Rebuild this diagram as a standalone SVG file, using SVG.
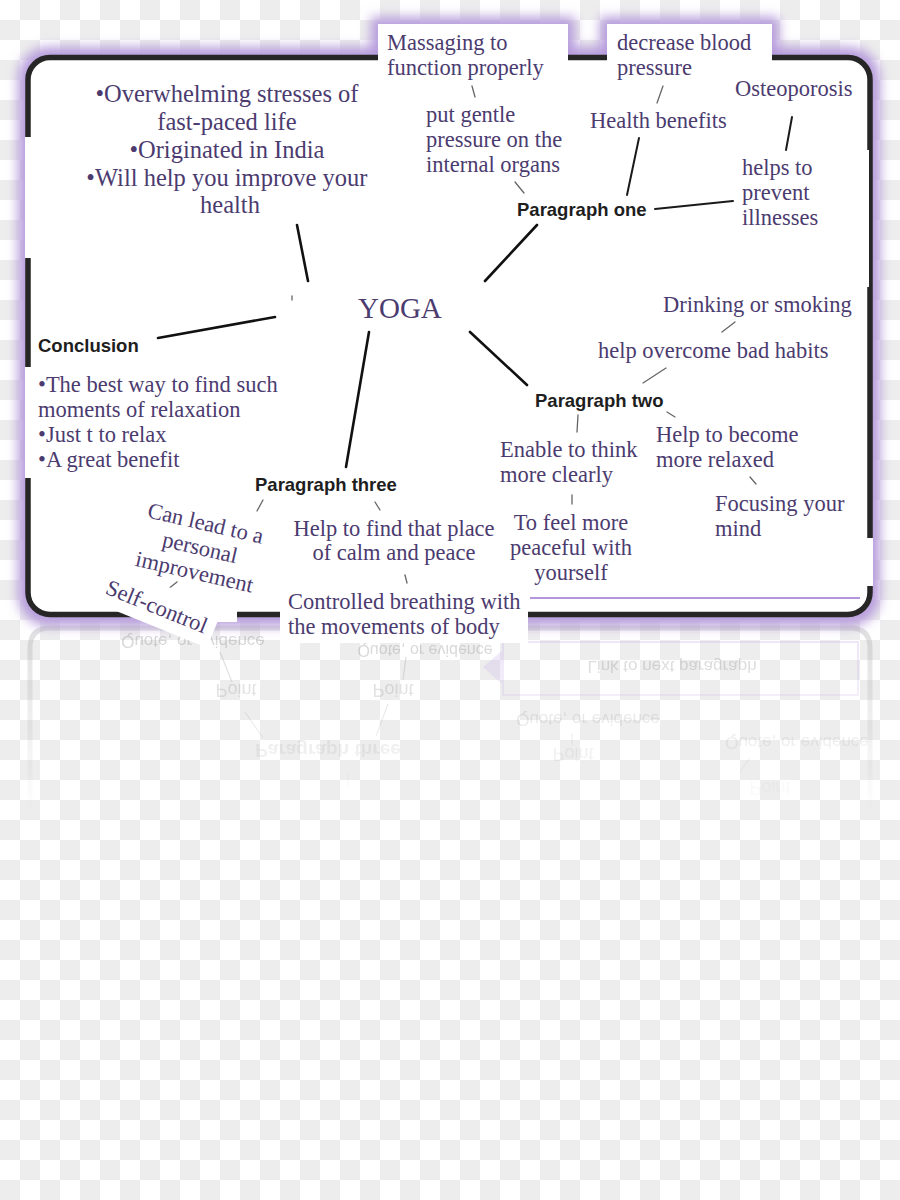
<svg xmlns="http://www.w3.org/2000/svg" width="900" height="1200" viewBox="0 0 900 1200">
<defs>
  <pattern id="checker" patternUnits="userSpaceOnUse" width="40" height="40">
    <rect width="40" height="40" fill="#ffffff"/>
    <rect x="20" y="0" width="20" height="20" fill="#ededed"/>
    <rect x="0" y="20" width="20" height="20" fill="#ededed"/>
  </pattern>
  <filter id="glow" x="-10%" y="-20%" width="120%" height="140%">
    <feGaussianBlur stdDeviation="6"/>
  </filter>
  <linearGradient id="fade" x1="0" y1="0" x2="0" y2="1">
    <stop offset="0" stop-color="#fff" stop-opacity="1"/>
    <stop offset="1" stop-color="#fff" stop-opacity="0"/>
  </linearGradient>
  <mask id="reflMask" maskUnits="userSpaceOnUse" x="0" y="600" width="900" height="260">
    <rect x="0" y="615" width="900" height="200" fill="url(#fade)"/>
  </mask>
  <style>
    .t { font-family: "Liberation Serif", "DejaVu Serif", serif; font-size: 22.5px; fill: #4b3b6f; }
    .big { font-size: 24.5px; }
    .yoga { font-size: 29px; }
    .lbl { font-family: "Liberation Sans", Arial, sans-serif; font-weight: bold; font-size: 18.5px; fill: #1e1e1e; }
    .main { stroke: #111; stroke-width: 2.6; stroke-linecap: round; fill: none; }
    .sec { stroke: #1a1a1a; stroke-width: 2; stroke-linecap: round; fill: none; }
    .tick { stroke: #666; stroke-width: 1.3; stroke-linecap: round; fill: none; }
    .rt { font-family: "Liberation Sans", Arial, sans-serif; font-size: 18px; fill: #888; }
  </style>
</defs>

<!-- background checkerboard -->
<rect x="0" y="0" width="900" height="1200" fill="url(#checker)"/>

<!-- faded reflection -->
<g id="reflection" mask="url(#reflMask)" opacity="0.38">
  <path d="M30,820 V648 Q30,628 50,628 H850 Q870,628 870,648 V820" fill="none" stroke="#a8a8a8" stroke-width="5"/>
  <rect x="503" y="642" width="355" height="53" fill="none" stroke="#c9b5ea" stroke-width="2"/>
  <polygon points="483,667 503,650 503,685" fill="#c9b5ea"/>
  <g fill="none" stroke="#999" stroke-width="1.3">
    <line x1="220" y1="652" x2="232" y2="682"/>
    <line x1="245" y1="712" x2="263" y2="738"/>
    <line x1="348" y1="774" x2="348" y2="786"/>
    <line x1="406" y1="657" x2="403" y2="680"/>
    <line x1="388" y1="704" x2="376" y2="736"/>
    <line x1="572" y1="733" x2="572" y2="745"/>
    <line x1="750" y1="758" x2="740" y2="772"/>
  </g>
  <g class="rt">
    <text transform="translate(193,636) scale(1,-1)" text-anchor="middle" font-size="17">Quote, or evidence</text>
    <text transform="translate(425,645) scale(1,-1)" text-anchor="middle" font-size="16">Quote, or evidence</text>
    <text transform="translate(236,684) scale(1,-1)" text-anchor="middle">Point</text>
    <text transform="translate(393,684) scale(1,-1)" text-anchor="middle">Point</text>
    <text transform="translate(328,744) scale(1,-1)" text-anchor="middle" font-weight="bold" font-size="19">Paragraph three</text>
    <text transform="translate(672,661) scale(1,-1)" text-anchor="middle" font-size="17">Link to next paragraph</text>
    <text transform="translate(588,714) scale(1,-1)" text-anchor="middle" font-size="17">Quote, or evidence</text>
    <text transform="translate(573,748) scale(1,-1)" text-anchor="middle">Point</text>
    <text transform="translate(797,737) scale(1,-1)" text-anchor="middle" font-size="17">Quote, or evidence</text>
    <text transform="translate(770,782) scale(1,-1)" text-anchor="middle">Point</text>
  </g>
</g>

<!-- frame with purple glow -->
<g id="frame">
  <g filter="url(#glow)">
    <rect x="25" y="54" width="848" height="565" rx="24" fill="#b69bdb" stroke="#b69bdb" stroke-width="14"/>
    <rect x="378" y="24" width="190" height="40" fill="#b69bdb" stroke="#b69bdb" stroke-width="14"/>
    <rect x="607" y="24" width="165" height="40" fill="#b69bdb" stroke="#b69bdb" stroke-width="14"/>
  </g>
  <rect x="28" y="57.5" width="842" height="557" rx="22" fill="#ffffff" stroke="#262626" stroke-width="5.5"/>
  <rect x="378" y="24" width="190" height="42" fill="#ffffff"/>
  <rect x="607" y="24" width="165" height="40" fill="#ffffff"/>
  <rect x="25" y="137" width="10" height="121" fill="#ffffff"/>
  <rect x="25" y="367" width="10" height="111" fill="#ffffff"/>
  <rect x="863" y="150" width="6" height="137" fill="#ffffff"/>
  <rect x="863" y="538" width="10" height="48" fill="#ffffff"/>
  <line x1="530" y1="598" x2="860" y2="598" stroke="#9b72d2" stroke-width="1.6"/>
</g>

<!-- connectors -->
<g id="connectors">
  <line class="main" x1="297" y1="225" x2="308" y2="281"/>
  <line class="main" x1="158" y1="338" x2="275" y2="317"/>
  <line class="main" x1="485" y1="281" x2="537" y2="225"/>
  <line class="main" x1="369" y1="332" x2="346" y2="467"/>
  <line class="main" x1="470" y1="332" x2="527" y2="385"/>
  <line class="sec" x1="627" y1="195" x2="639" y2="138"/>
  <line class="sec" x1="655" y1="209" x2="733" y2="201"/>
  <line class="sec" x1="792" y1="117" x2="786" y2="150" stroke-width="1.6"/>
  <line class="tick" x1="472" y1="86" x2="475" y2="97"/>
  <line class="tick" x1="515" y1="182" x2="524" y2="193"/>
  <line class="tick" x1="657" y1="103" x2="663" y2="86"/>
  <line class="tick" x1="292" y1="296" x2="292" y2="300"/>
  <line class="tick" x1="263" y1="500" x2="257" y2="511" stroke="#333"/>
  <line class="tick" x1="375" y1="502" x2="380" y2="510" stroke="#333"/>
  <line class="tick" x1="177" y1="582" x2="163" y2="593" stroke="#333"/>
  <line class="tick" x1="405" y1="575" x2="407" y2="583"/>
  <line class="tick" x1="643" y1="383" x2="666" y2="368" stroke="#333" stroke-width="1.6"/>
  <line class="tick" x1="722" y1="332" x2="735" y2="322" stroke="#999"/>
  <line class="tick" x1="667" y1="412" x2="675" y2="417" stroke="#333"/>
  <line class="tick" x1="578" y1="415" x2="577" y2="432" stroke="#222" stroke-width="1.8"/>
  <line class="tick" x1="750" y1="477" x2="756" y2="484" stroke="#999"/>
  <line class="tick" x1="572" y1="495" x2="572" y2="504" stroke="#aaa"/>
</g>

<!-- nodes -->
<g id="node-intro">
  <text class="t big" text-anchor="middle">
    <tspan x="230" y="102">•Overwhelming stresses  of</tspan>
    <tspan x="230" y="130">fast-paced life</tspan>
    <tspan x="230" y="158">•Originated in India</tspan>
    <tspan x="230" y="186">•Will help you improve your</tspan>
    <tspan x="230" y="213">health</tspan>
  </text>
</g>

<g id="node-yoga">
  <text class="t yoga" x="358" y="318">YOGA</text>
</g>

<g id="node-paragraph-one">
  <text class="lbl" x="517" y="216">Paragraph one</text>
</g>

<g id="node-massaging">
  <text class="t"><tspan x="387" y="50">Massaging to</tspan><tspan x="387" y="75">function properly</tspan></text>
</g>

<g id="node-gentle">
  <text class="t"><tspan x="426" y="122">put gentle</tspan><tspan x="426" y="147">pressure on the</tspan><tspan x="426" y="172">internal organs</tspan></text>
</g>

<g id="node-health">
  <text class="t" x="590" y="128">Health benefits</text>
</g>

<g id="node-blood">
  <text class="t"><tspan x="617" y="50">decrease blood</tspan><tspan x="617" y="75">pressure</tspan></text>
</g>

<g id="node-osteoporosis">
  <text class="t" x="735" y="96">Osteoporosis</text>
</g>

<g id="node-illnesses">
  <text class="t"><tspan x="742" y="175">helps to</tspan><tspan x="742" y="200">prevent</tspan><tspan x="742" y="225">illnesses</tspan></text>
</g>

<g id="node-conclusion">
  <text class="lbl" x="38" y="352">Conclusion</text>
  <text class="t">
    <tspan x="38" y="392">•The best way to find such</tspan>
    <tspan x="38" y="417">moments of relaxation</tspan>
    <tspan x="38" y="442">•Just t to relax</tspan>
    <tspan x="38" y="467">•A great benefit</tspan>
  </text>
</g>

<g id="node-paragraph-two">
  <text class="lbl" x="535" y="407">Paragraph two</text>
</g>

<g id="node-drinking">
  <text class="t" x="663" y="312">Drinking or smoking</text>
</g>

<g id="node-habits">
  <text class="t" x="598" y="358">help overcome bad habits</text>
</g>

<g id="node-think">
  <text class="t"><tspan x="500" y="457">Enable to think</tspan><tspan x="500" y="482">more clearly</tspan></text>
</g>

<g id="node-relaxed">
  <text class="t"><tspan x="656" y="442">Help to become</tspan><tspan x="656" y="467">more relaxed</tspan></text>
</g>

<g id="node-focusing">
  <text class="t"><tspan x="715" y="511">Focusing your</tspan><tspan x="715" y="536">mind</tspan></text>
</g>

<g id="node-peaceful">
  <text class="t" text-anchor="middle"><tspan x="571" y="530">To feel more</tspan><tspan x="571" y="555">peaceful with</tspan><tspan x="571" y="580">yourself</tspan></text>
</g>

<g id="node-paragraph-three">
  <text class="lbl" x="255" y="491">Paragraph three</text>
</g>

<g id="node-calm">
  <text class="t" text-anchor="middle"><tspan x="394" y="536">Help to find that place</tspan><tspan x="394" y="560">of calm and peace</tspan></text>
</g>

<g id="node-breathing">
  <rect x="280" y="588" width="248" height="55" fill="#ffffff"/>
  <text class="t"><tspan x="288" y="609">Controlled breathing with</tspan><tspan x="288" y="634">the movements of body</tspan></text>
</g>

<g id="node-improvement" transform="translate(200,548) rotate(13)">
  <text class="t" text-anchor="middle"><tspan x="0" y="-18">Can lead to a</tspan><tspan x="0" y="7">personal</tspan><tspan x="0" y="32">improvement</tspan></text>
</g>

<g id="node-selfcontrol">
  <rect x="215" y="596" width="22" height="26" fill="#ffffff"/>
  <g transform="translate(157,606) rotate(22)">
    <rect x="-62" y="-22" width="124" height="42" fill="#ffffff"/>
    <text class="t" text-anchor="middle" x="0" y="8">Self-control</text>
  </g>
</g>
</svg>
